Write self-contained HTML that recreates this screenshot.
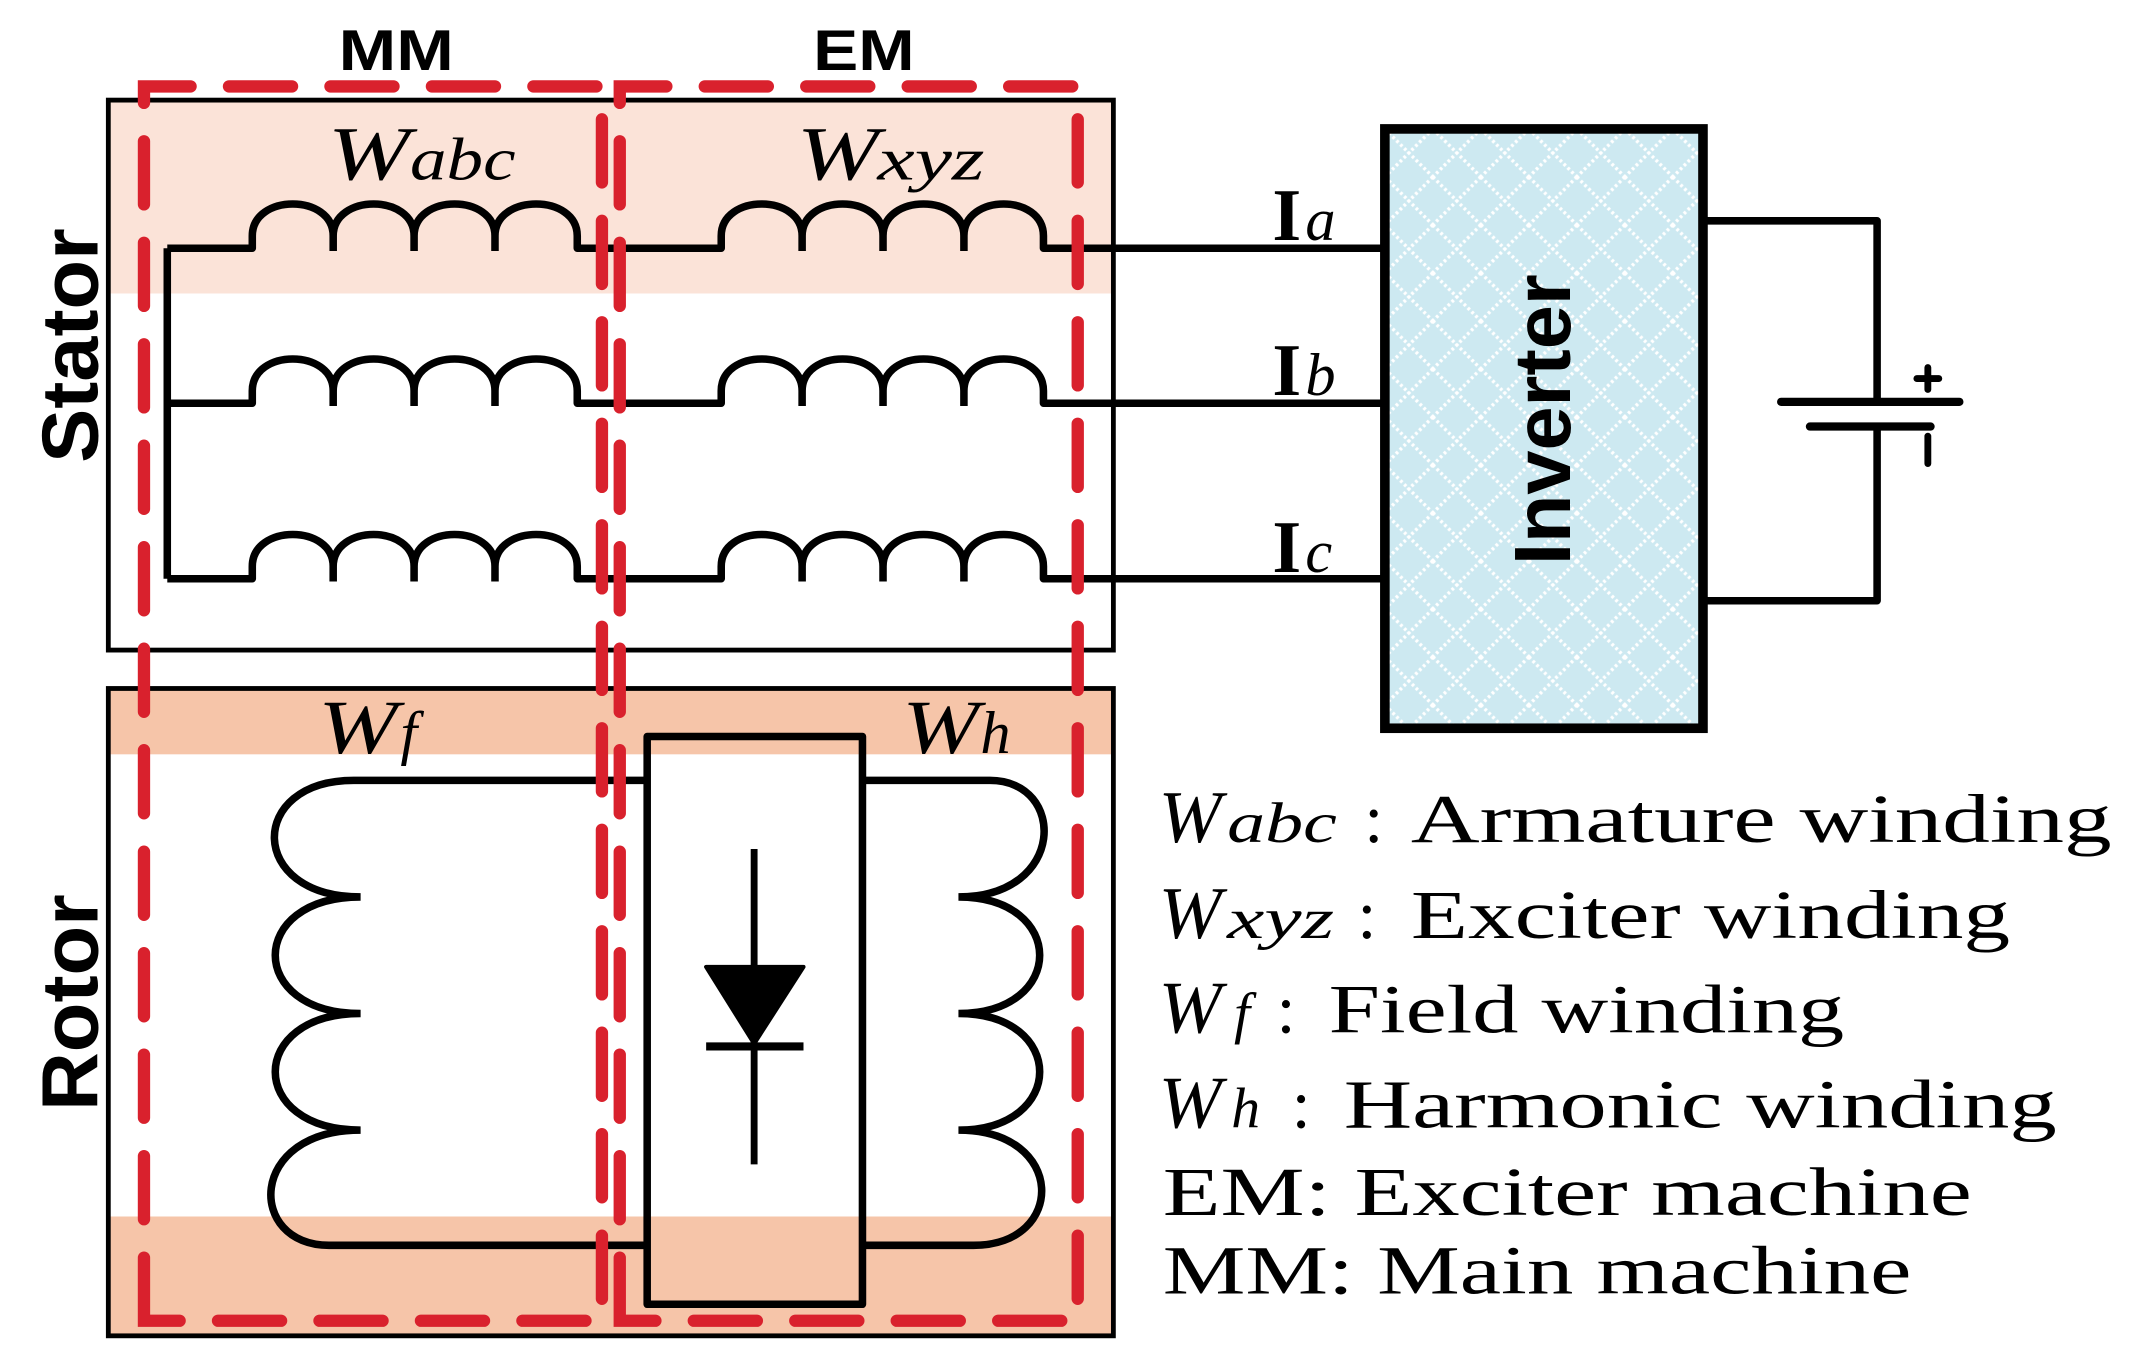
<!DOCTYPE html>
<html><head><meta charset="utf-8"><style>
html,body{margin:0;padding:0;background:#fff;}
svg{display:block;}
</style></head><body>
<svg width="2139" height="1366" viewBox="0 0 1560 996" preserveAspectRatio="none" xmlns="http://www.w3.org/2000/svg">
<defs>
<pattern id="lat" width="35" height="35" patternUnits="userSpaceOnUse" x="1010" y="94">
<rect width="35" height="35" fill="#cde9f1"/>
<path d="M0,0 L35,35 M35,0 L0,35" stroke="#fff" stroke-width="2.5" stroke-dasharray="2 2" fill="none"/>
</pattern>
</defs>
<rect x="79" y="73" width="733" height="141" fill="#fbe3d8"/>
<rect x="79" y="502" width="733" height="48" fill="#f6c5a9"/>
<rect x="79" y="887" width="733" height="87" fill="#f6c5a9"/>
<rect x="79" y="73" width="733" height="401" fill="none" stroke="#000" stroke-width="3.5"/>
<rect x="79" y="502" width="733" height="472" fill="none" stroke="#000" stroke-width="3.5"/>

<g fill="none" stroke="#000" stroke-width="5.5" stroke-linejoin="round">
<path d="M122,181 V422"/>
<g id="row">
<path d="M122,181 H184 V172 C184,141 243,141 243,172 V183 M243,172 C243,141 302,141 302,172 V183 M302,172 C302,141 361,141 361,172 V183 M361,172 C361,141 421,141 421,172 V181 H526 V172 C526,141 585,141 585,172 V183 M585,172 C585,141 644,141 644,172 V183 M644,172 C644,141 703,141 703,172 V183 M703,172 C703,141 761,141 761,172 V181 H1010"/>
</g>
<use href="#row" y="113"/>
<use href="#row" y="241"/>
<path d="M470,569 H258 C180,569 180,654 263,654 M263,654 C180,654 180,739 263,739 M263,739 C180,739 180,824 263,824 M263,824 C180,824 180,908 240,908 H470"/>
<path d="M629,569 H722 C778,569 778,654 699,654 M699,654 C778,654 778,739 699,739 M699,739 C778,739 778,824 699,824 M699,824 C778,824 778,908 710,908 H629"/>
<rect x="472" y="537" width="157" height="414"/>
<path d="M1242,161 H1369 V293 M1369,311 V438 H1242"/>
</g>
<path d="M550,619 V849" stroke="#000" stroke-width="5"/>
<path d="M515,705 L586,705 L550,761 Z" fill="#000" stroke="#000" stroke-width="3" stroke-linejoin="round"/>
<path d="M515,763 H586" stroke="#000" stroke-width="6"/>
<path d="M1299,293 H1429 M1320,311 H1408" stroke="#000" stroke-width="6" stroke-linecap="round"/>
<path d="M1398,276 H1414 M1406,268 V284 M1406,318 V338" stroke="#000" stroke-width="5" stroke-linecap="round"/>
<rect x="1010" y="94" width="232" height="437" fill="url(#lat)" stroke="#000" stroke-width="7"/>
<text transform="translate(1145,306) rotate(-90)" text-anchor="middle" font-family="Liberation Sans, sans-serif" font-weight="bold" font-size="58" textLength="212" lengthAdjust="spacingAndGlyphs">Inverter</text>

<g fill="none" stroke="#d9212d" stroke-width="9" stroke-linecap="round" stroke-dasharray="46 28">
<path d="M105,963 V63 H439 V963 Z"/>
<path d="M452,963 V63 H786 V963 Z"/>
</g>

<g font-family="Liberation Sans, sans-serif" font-weight="bold" fill="#000">
<text x="247" y="51" font-size="42" textLength="84" lengthAdjust="spacingAndGlyphs">MM</text>
<text x="593" y="51" font-size="42" textLength="74" lengthAdjust="spacingAndGlyphs">EM</text>
<text transform="translate(71,252) rotate(-90)" text-anchor="middle" font-size="58" textLength="171" lengthAdjust="spacingAndGlyphs">Stator</text>
<text transform="translate(71,731) rotate(-90)" text-anchor="middle" font-size="58" textLength="158" lengthAdjust="spacingAndGlyphs">Rotor</text>
</g>

<g font-family="Liberation Serif, serif" fill="#000">
<g font-style="italic">
<text x="239" y="131" font-size="56" textLength="60" lengthAdjust="spacingAndGlyphs">W</text>
<text x="299" y="131" font-size="44" textLength="77" lengthAdjust="spacingAndGlyphs">abc</text>
<text x="581" y="131" font-size="56" textLength="60" lengthAdjust="spacingAndGlyphs">W</text>
<text x="640" y="131" font-size="44" textLength="78" lengthAdjust="spacingAndGlyphs">xyz</text>
<text x="232" y="549" font-size="56" textLength="58" lengthAdjust="spacingAndGlyphs">W</text>
<text x="292" y="549" font-size="44">f</text>
<text x="658" y="549" font-size="56" textLength="56" lengthAdjust="spacingAndGlyphs">W</text>
<text x="715" y="549" font-size="44">h</text>
</g>
<text x="928" y="175" font-size="54" font-weight="bold">I</text><text x="952" y="175" font-size="44" font-style="italic">a</text>
<text x="928" y="288" font-size="54" font-weight="bold">I</text><text x="952" y="288" font-size="44" font-style="italic">b</text>
<text x="928" y="417" font-size="54" font-weight="bold">I</text><text x="952" y="417" font-size="44" font-style="italic">c</text>

<g font-size="50">
<text x="845" y="614" font-style="italic" font-size="54" textLength="46" lengthAdjust="spacingAndGlyphs">W</text>
<text x="895" y="614" font-style="italic" font-size="42" textLength="80" lengthAdjust="spacingAndGlyphs">abc</text>
<text x="995" y="614">:</text>
<text x="1029" y="614" textLength="511" lengthAdjust="spacingAndGlyphs">Armature winding</text>

<text x="845" y="684" font-style="italic" font-size="54" textLength="46" lengthAdjust="spacingAndGlyphs">W</text>
<text x="895" y="684" font-style="italic" font-size="42" textLength="78" lengthAdjust="spacingAndGlyphs">xyz</text>
<text x="990" y="684">:</text>
<text x="1029" y="684" textLength="437" lengthAdjust="spacingAndGlyphs">Exciter winding</text>

<text x="845" y="753" font-style="italic" font-size="54" textLength="46" lengthAdjust="spacingAndGlyphs">W</text>
<text x="900" y="753" font-style="italic" font-size="42">f</text>
<text x="931" y="753">:</text>
<text x="969" y="753" textLength="376" lengthAdjust="spacingAndGlyphs">Field winding</text>

<text x="845" y="822" font-style="italic" font-size="54" textLength="46" lengthAdjust="spacingAndGlyphs">W</text>
<text x="898" y="822" font-style="italic" font-size="42">h</text>
<text x="942" y="822">:</text>
<text x="980" y="822" textLength="520" lengthAdjust="spacingAndGlyphs">Harmonic winding</text>

<text x="848" y="886" textLength="590" lengthAdjust="spacingAndGlyphs">EM: Exciter machine</text>
<text x="848" y="943" textLength="546" lengthAdjust="spacingAndGlyphs">MM: Main machine</text>
</g>
</g>
</svg>
</body></html>
